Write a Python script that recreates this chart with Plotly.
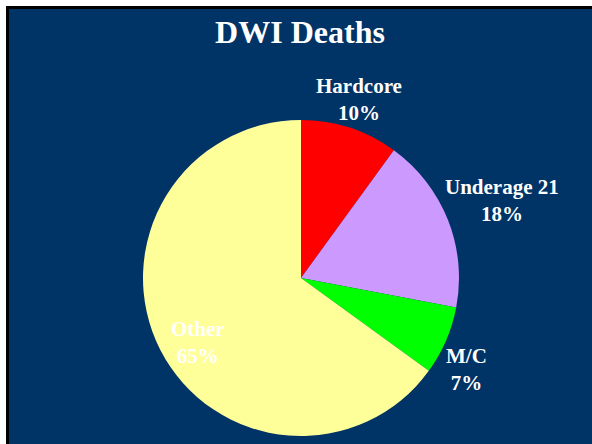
import plotly.graph_objects as go

# data
categories = ["Hardcore", "Underage 21", "M/C", "Other"]
shares = [10, 18, 7, 65]
colors = ["#FF0000", "#CC99FF", "#00FF00", "#FFFF99"]

W, H = 592, 444
BG = "#003366"
SERIF = "Liberation Serif, Times New Roman, serif"

# label block centres in pixels (x, y from top)
label_pos = [(359, 99), (502, 200), (466, 369), (198, 342)]

fig = go.Figure(
    go.Pie(
        labels=categories, values=shares, sort=False, direction="clockwise",
        rotation=0, textinfo="none", hoverinfo="label+percent",
        marker=dict(colors=colors, line=dict(width=0)),
        domain=dict(x=[143 / W, 459 / W], y=[1 - 436 / H, 1 - 120 / H]),
        showlegend=False,
    )
)

# dark slide panel with black edge (right/bottom edges run off the page)
fig.add_shape(
    type="rect", xref="paper", yref="paper", layer="below",
    x0=7.5 / W, x1=1 + 6 / W, y0=-6 / H, y1=1 - 7.5 / H,
    fillcolor=BG, line=dict(color="black", width=3),
)

for name, val, (px, py) in zip(categories, shares, label_pos):
    fig.add_annotation(
        x=px / W, y=1 - py / H, xref="paper", yref="paper",
        xanchor="center", yanchor="middle",
        text=f"{name}<br>{val}%", showarrow=False, align="center",
        font=dict(family=SERIF, size=21, color="white", weight="bold"),
    )

fig.update_layout(
    width=W, height=H, margin=dict(l=0, r=0, t=0, b=0),
    paper_bgcolor="white", plot_bgcolor=BG,
    title=dict(
        text="DWI Deaths", x=300 / W, xanchor="center", y=1 - 32 / H, yanchor="middle",
        font=dict(family=SERIF, size=32, color="white", weight="bold"),
    ),
)

fig.write_html(
    "out.html",
    config={"displayModeBar": False},
    post_script="document.body.style.margin='0';",
)
